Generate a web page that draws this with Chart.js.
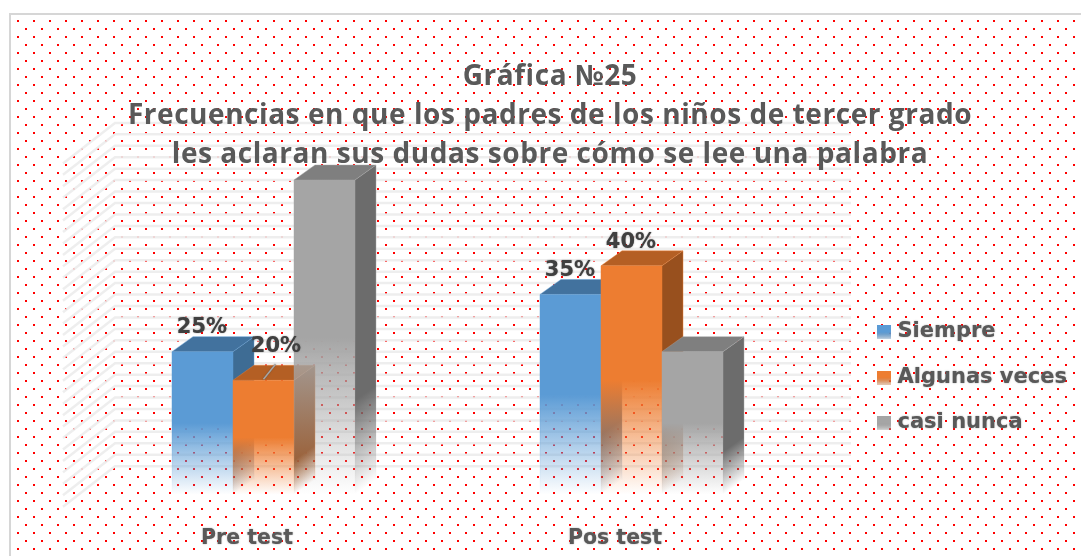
<!DOCTYPE html>
<html lang="es">
<head>
<meta charset="utf-8">
<title>Gráfica Nº25</title>
<script src="https://cdn.jsdelivr.net/npm/chart.js@4"></script>
<style>
  html, body { margin: 0; padding: 0; background: #fff; overflow: hidden; }
  canvas { display: block; }
</style>
</head>
<body>
<canvas id="grafica" width="1081" height="556"></canvas>
<script>
// datos
const categories = ['Pre test', 'Pos test'];
const seriesNames = ['Siempre', 'Algunas veces', 'casi nunca'];
const siempre = [25, 35];
const algunasVeces = [20, 40];
const casiNunca = [55, 25];
const titleLines = [
  'Gráfica №25',
  'Frecuencias en que los padres de los niños de tercer grado',
  'les aclaran sus dudas sobre cómo se lee una palabra'
];
// en el original la serie gris no lleva etiqueta
const showLabels = [true, true, false];
const gridMax = 60;
const gridStep = 2;

// colores: frente, costado, tapa
const frontRgb = ['91,155,213', '237,125,49', '165,165,165'];
const sideRgb = ['62,108,148', '152,80,30', '108,108,108'];
const topRgb = ['66,114,158', '180,95,36', '127,127,127'];

// profundidad del falso 3D
const barDepth = { dx: 21, dy: -15 };
const wallBack = { dx: 35.5, dy: -28.5 };
const wallFront = { dx: -16.5, dy: 12 };

const fadeStops = (g, rgb, start) => {
  g.addColorStop(0, `rgba(${rgb},1)`);
  g.addColorStop(start, `rgba(${rgb},1)`);
  g.addColorStop(1, `rgba(${rgb},0)`);
  return g;
};

const fadeBar = (ctx, top, base, rgb, start) =>
  fadeStops(ctx.createLinearGradient(0, top, 0, base), rgb, start);

// en el costado el degradado corre paralelo al borde inclinado de abajo
const fadeSide = (ctx, x, top, base, rgb, start) => {
  const { dx, dy } = barDepth;
  const len = Math.hypot(dx, dy);
  const nx = -dy / len;
  const ny = dx / len;
  const t = (base - top) * ny;
  return fadeStops(ctx.createLinearGradient(x, top, x + nx * t, top + ny * t), rgb, start);
};

const legendSwatch = (rgb) => {
  const c = document.createElement('canvas');
  c.width = 14;
  c.height = 14;
  const x = c.getContext('2d');
  const g = x.createLinearGradient(0, 0, 0, 14);
  g.addColorStop(0, `rgba(${rgb},1)`);
  g.addColorStop(0.5, `rgba(${rgb},1)`);
  g.addColorStop(1, `rgba(${rgb},0.25)`);
  x.fillStyle = g;
  x.fillRect(0, 0, 14, 14);
  return c;
};

const dotPattern = (ctx) => {
  const c = document.createElement('canvas');
  c.width = 16;
  c.height = 16;
  const x = c.getContext('2d');
  x.fillStyle = '#ff0000';
  x.fillRect(1, 4, 2, 2);
  x.fillRect(9, 12, 2, 2);
  return ctx.createPattern(c, 'repeat');
};

// fondo punteado, marco y paredes con sus lineas
const backdrop = {
  id: 'backdrop',
  beforeDraw(chart) {
    const { ctx, width, height, scales: { x, y } } = chart;
    ctx.save();
    ctx.fillStyle = '#fff';
    ctx.fillRect(0, 0, width, height);
    ctx.fillStyle = dotPattern(ctx);
    ctx.fillRect(10, 14, width - 10, height - 14);
    ctx.fillStyle = '#d6d6d6';
    ctx.fillRect(9, 13, width - 9, 2);
    ctx.fillRect(9, 13, 2, height - 13);

    ctx.strokeStyle = 'rgba(236,236,236,0.9)';
    ctx.lineWidth = 2.5;
    for (let v = 0; v <= gridMax; v += gridStep) {
      const py = y.getPixelForValue(v);
      ctx.beginPath();
      ctx.moveTo(x.left + wallFront.dx, py + wallFront.dy);
      ctx.lineTo(x.left + wallBack.dx, py + wallBack.dy);
      ctx.lineTo(x.right + wallBack.dx, py + wallBack.dy);
      ctx.stroke();
    }
    ctx.restore();
  }
};

// costado y tapa de una barra, el frente lo pinta Chart.js
const drawFaces = (ctx, meta, i) => {
  ctx.save();
  meta.data.forEach((bar) => {
    const left = bar.x - bar.width / 2;
    const right = bar.x + bar.width / 2;
    const { dx, dy } = barDepth;
    ctx.fillStyle = fadeSide(ctx, right, bar.y, bar.base, sideRgb[i], 0.7);
    ctx.beginPath();
    ctx.moveTo(right, bar.y);
    ctx.lineTo(right + dx, bar.y + dy);
    ctx.lineTo(right + dx, bar.base + dy);
    ctx.lineTo(right, bar.base);
    ctx.closePath();
    ctx.fill();
    ctx.fillStyle = `rgb(${topRgb[i]})`;
    ctx.beginPath();
    ctx.moveTo(left, bar.y);
    ctx.lineTo(left + dx, bar.y + dy);
    ctx.lineTo(right + dx, bar.y + dy);
    ctx.lineTo(right, bar.y);
    ctx.closePath();
    ctx.fill();
  });
  ctx.restore();
};

// filo claro alrededor de las caras
const drawEdges = (ctx, meta, i) => {
  ctx.save();
  ctx.globalAlpha = 0.45;
  ctx.lineWidth = 1;
  meta.data.forEach((bar) => {
    const left = bar.x - bar.width / 2;
    const right = bar.x + bar.width / 2;
    const { dx, dy } = barDepth;
    ctx.strokeStyle = fadeBar(ctx, bar.y + dy, bar.base, frontRgb[i], 0.5);
    ctx.beginPath();
    ctx.moveTo(left, bar.base);
    ctx.lineTo(left, bar.y);
    ctx.lineTo(left + dx, bar.y + dy);
    ctx.lineTo(right + dx, bar.y + dy);
    ctx.lineTo(right + dx, bar.base + dy);
    ctx.moveTo(left, bar.y);
    ctx.lineTo(right, bar.y);
    ctx.lineTo(right + dx, bar.y + dy);
    ctx.moveTo(right, bar.y);
    ctx.lineTo(right, bar.base);
    ctx.stroke();
  });
  ctx.restore();
};

// se pinta de izquierda a derecha: cada barra tapa el costado de la anterior
const paintOrder = {
  id: 'paintOrder',
  beforeDatasetsDraw(chart) {
    chart.data.datasets.forEach((ds, i) => {
      const meta = chart.getDatasetMeta(i);
      drawFaces(chart.ctx, meta, i);
      meta.controller.draw();
      drawEdges(chart.ctx, meta, i);
    });
    return false;
  }
};

// etiquetas de porcentaje; el 20% va desplazado con su linea guia
const valueLabels = {
  id: 'valueLabels',
  afterDraw(chart) {
    const { ctx } = chart;
    ctx.save();
    ctx.font = 'bold 21px "DejaVu Sans"';
    ctx.textAlign = 'center';
    ctx.textBaseline = 'middle';
    ctx.shadowColor = 'rgba(64,64,64,0.6)';
    ctx.shadowBlur = 1.5;
    chart.data.datasets.forEach((ds, i) => {
      if (!showLabels[i]) return;
      chart.getDatasetMeta(i).data.forEach((bar, j) => {
        const moved = ds.data[j] === 20;
        if (moved) {
          ctx.strokeStyle = '#a6a6a6';
          ctx.lineWidth = 1.5;
          ctx.beginPath();
          ctx.moveTo(bar.x, bar.y - 1);
          ctx.lineTo(bar.x + 12, bar.y - 16);
          ctx.stroke();
        }
        ctx.fillStyle = '#404040';
        ctx.fillText(`${ds.data[j]}%`, bar.x + (moved ? 12.5 : -0.5), bar.y + (moved ? -33.7 : -23.7));
      });
    });
    ctx.restore();
  }
};

const styled = (box, method, props, reset) => {
  const original = box[method];
  box[method] = function (...args) {
    Object.assign(this.ctx, props);
    original.apply(this, args);
    Object.assign(this.ctx, reset);
  };
};

// titulo y leyenda no siguen el centro del lienzo en el original
let placed = false;
const placeBoxes = {
  id: 'placeBoxes',
  afterLayout(chart) {
    const t = chart.titleBlock;
    t.left = 0;
    t.right = 1100;
    const l = chart.legend;
    const pad = l.options.labels.padding;
    l.left = 881 - pad;
    l.right = chart.width;
    l.top = 321.5 - pad;
    l.bottom = chart.height;
    if (placed) return;
    placed = true;
    const heavy = { shadowColor: 'rgba(89,89,89,0.6)', shadowBlur: 1.5 };
    const plain = { shadowColor: 'rgba(0,0,0,0)', shadowBlur: 0 };
    styled(t, 'draw', { letterSpacing: '0.55px' }, { letterSpacing: '0px' });
    styled(l, 'draw', heavy, plain);
    styled(chart.scales.x, 'drawLabels', heavy, plain);
  }
};

const series = [siempre, algunasVeces, casiNunca];

new Chart(document.getElementById('grafica'), {
  type: 'bar',
  data: {
    labels: categories,
    datasets: series.map((values, i) => ({
      label: seriesNames[i],
      data: values,
      backgroundColor: (c) => {
        const { chart, dataIndex } = c;
        if (!chart.chartArea || c.type !== 'data') return `rgb(${frontRgb[i]})`;
        const y = chart.scales.y;
        return fadeBar(chart.ctx, y.getPixelForValue(values[dataIndex]), y.getPixelForValue(0), frontRgb[i], 0.5);
      },
      borderWidth: 0,
      barPercentage: 1,
      categoryPercentage: 0.4973
    }))
  },
  options: {
    responsive: false,
    animation: false,
    events: [],
    layout: { padding: { left: 79.5, right: 265.5, top: 0, bottom: 0 } },
    scales: {
      x: {
        grid: { display: false, drawTicks: false },
        border: { display: false },
        afterFit: (scale) => { scale.height = 61.3; },
        ticks: {
          padding: 31.8,
          labelOffset: -16.5,
          color: '#595959',
          font: { family: '"DejaVu Sans"', size: 20.5, weight: 'bold' }
        }
      },
      y: { display: false, min: 0, max: 55 }
    },
    plugins: {
      tooltip: { enabled: false },
      title: {
        display: true,
        text: titleLines,
        color: '#595959',
        padding: { top: 58, bottom: 5 },
        font: { family: '"Open Sans"', size: 28, weight: 'bold', lineHeight: '39px' }
      },
      legend: {
        position: 'chartArea',
        align: 'start',
        labels: {
          color: '#595959',
          font: { family: '"DejaVu Sans"', size: 21, weight: 'bold' },
          usePointStyle: true,
          boxWidth: 6,
          boxHeight: 14,
          padding: 24.5,
          generateLabels: (chart) => chart.data.datasets.map((ds, i) => ({
            text: ds.label,
            datasetIndex: i,
            pointStyle: legendSwatch(frontRgb[i]),
            fontColor: '#595959'
          }))
        }
      }
    }
  },
  plugins: [backdrop, paintOrder, valueLabels, placeBoxes]
});
</script>
</body>
</html>
